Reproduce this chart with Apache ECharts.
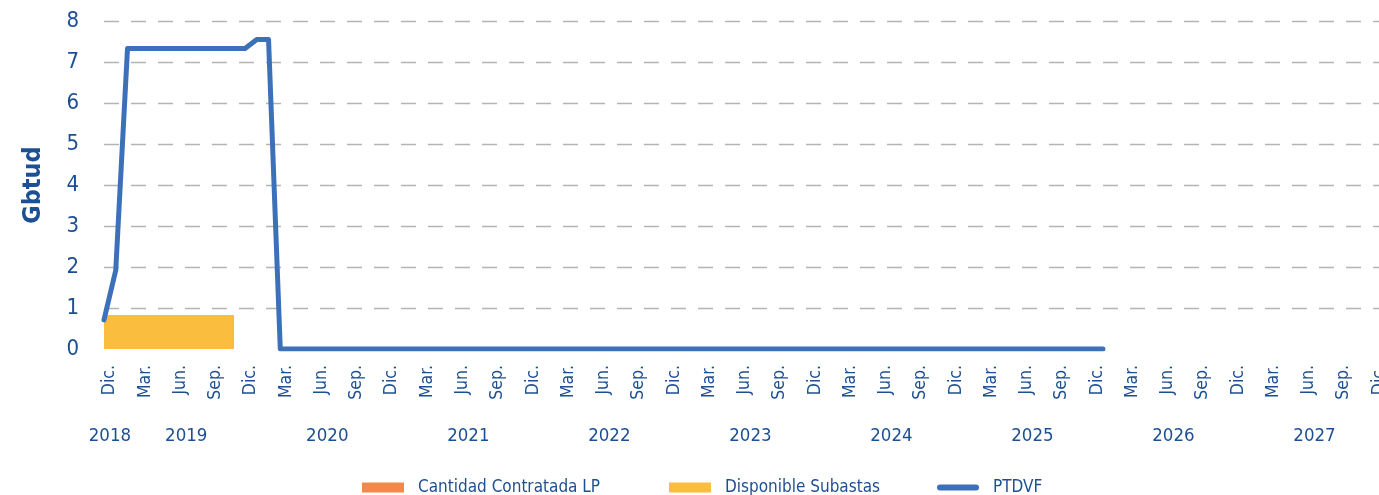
<!DOCTYPE html>
<html>
<head>
<meta charset="utf-8">
<script src="https://cdn.jsdelivr.net/npm/echarts@6/dist/echarts.min.js"></script>
<style>
html,body{margin:0;padding:0;background:#fff;}
#chart{width:1379px;height:495px;}
</style>
</head>
<body>
<div id="chart"></div>
<script>
// ---- data ----
const monthNames = ['Ene.','Feb.','Mar.','Abr.','May.','Jun.','Jul.','Ago.','Sep.','Oct.','Nov.','Dic.'];
const years = ['2018','2019','2020','2021','2022','2023','2024','2025','2026','2027'];
// monthly categories from Dic. 2018 to Dic. 2027
const months = [];
const monthYear = [];
months.push('Dic.'); monthYear.push('2018');
for (let y = 1; y < years.length; y++) {
  for (let m = 0; m < 12; m++) { months.push(monthNames[m]); monthYear.push(years[y]); }
}
// Disponible Subastas (Gbtud), monthly from Dic. 2018
const disponibleSubastas = [0.83,0.83,0.83,0.83,0.83,0.83,0.83,0.83,0.83,0.83,0.83];
// Cantidad Contratada LP (no visible volume)
const cantidadContratadaLP = [];
// PTDVF (Gbtud), monthly from Dic. 2018 to Ene. 2026
const ptdvf = [
  0.71, 1.92, 7.33, 7.33, 7.33, 7.33, 7.33, 7.33, 7.33, 7.33, 7.33, 7.33, 7.33, 7.55, 7.55,
  0, 0, 0, 0, 0, 0, 0, 0, 0, 0, 0, 0, 0, 0, 0, 0, 0, 0, 0, 0,
  0, 0, 0, 0, 0, 0, 0, 0, 0, 0, 0, 0, 0, 0, 0, 0, 0, 0, 0, 0,
  0, 0, 0, 0, 0, 0, 0, 0, 0, 0, 0, 0, 0, 0, 0, 0, 0, 0, 0, 0,
  0, 0, 0, 0, 0, 0, 0, 0, 0, 0, 0
];
const yTicks = [0,1,2,3,4,5,6,7,8];

// ---- derived helpers ----
const monthStarts = months.concat(['Ene.']); // boundaries for the line axis
const yearCenter = {};
years.forEach(y => {
  const first = monthYear.indexOf(y), last = monthYear.lastIndexOf(y);
  yearCenter[((first + last + 1) / 2).toFixed(1)] = y;
});

const FONT = '"Liberation Sans Narrow", "Arial Narrow", "DejaVu Sans Condensed", "Liberation Sans", sans-serif';
const TXT = '#1d4f93';
const ORANGE = '#f4884a', YELLOW = '#fbbd3d', BLUE = '#3c71b9';

function legendAt(left, name, icon) {
  return {
    top: 474,
    left: left,
    itemWidth: 42,
    itemHeight: 10,
    textStyle: { fontFamily: FONT, fontSize: 17, color: TXT, padding: [0, 0, 0, 9] },
    data: [{ name: name, icon: icon }]
  };
}

const chart = echarts.init(document.getElementById('chart'));
chart.setOption({
  animation: false,
  backgroundColor: '#ffffff',
  textStyle: { fontFamily: FONT, color: TXT },
  grid: { left: 104, width: 1281, top: 21, height: 328, containLabel: false, outerBoundsMode: 'none' },
  legend: [
    legendAt(357, 'Cantidad Contratada LP', 'rect'),
    legendAt(664, 'Disponible Subastas', 'rect'),
    legendAt(932, 'PTDVF', 'path://M3,0 L39,0 A3,3 0 0 1 39,6 L3,6 A3,3 0 0 1 3,0 Z')
  ],
  xAxis: [
    {
      type: 'category',
      data: months,
      boundaryGap: true,
      axisLine: { show: false },
      axisTick: { show: false },
      splitLine: { show: false },
      axisLabel: {
        rotate: 90,
        margin: 16,
        fontFamily: FONT,
        fontSize: 17.5,
        color: TXT,
        interval: (idx) => idx % 3 === 0
      }
    },
    {
      type: 'category',
      data: monthStarts,
      boundaryGap: false,
      show: false
    },
    {
      type: 'value',
      min: 0,
      max: months.length,
      interval: 0.5,
      position: 'bottom',
      axisLine: { show: false },
      axisTick: { show: false },
      splitLine: { show: false },
      axisLabel: {
        margin: 78,
        fontFamily: FONT,
        fontSize: 18.5,
        color: TXT,
        showMinLabel: true,
        showMaxLabel: true,
        formatter: (v) => yearCenter[Number(v).toFixed(1)] || ''
      }
    }
  ],
  yAxis: {
    type: 'value',
    min: yTicks[0],
    max: yTicks[yTicks.length - 1],
    interval: 1,
    name: 'Gbtud',
    nameLocation: 'middle',
    nameRotate: 90,
    nameGap: 58,
    nameTextStyle: { fontFamily: FONT, fontSize: 25, fontWeight: 'bold', color: TXT },
    axisLine: { show: false },
    axisTick: { show: false },
    axisLabel: { margin: 25, fontFamily: FONT, fontSize: 22, color: TXT },
    splitLine: {
      show: true,
      showMinLine: false,
      lineStyle: { color: '#b4b4b4', width: 1.3, type: [15, 12] }
    }
  },
  series: [
    {
      name: 'Cantidad Contratada LP',
      type: 'bar',
      stack: 'vol',
      xAxisIndex: 0,
      barWidth: '112%',
      itemStyle: { color: ORANGE, borderWidth: 0 },
      data: cantidadContratadaLP
    },
    {
      name: 'Disponible Subastas',
      type: 'bar',
      stack: 'vol',
      xAxisIndex: 0,
      barWidth: '112%',
      itemStyle: { color: YELLOW, borderWidth: 0 },
      data: disponibleSubastas
    },
    {
      name: 'PTDVF',
      type: 'line',
      xAxisIndex: 1,
      symbol: 'none',
      itemStyle: { color: BLUE },
      lineStyle: { color: BLUE, width: 5, cap: 'round', join: 'round' },
      data: ptdvf,
      z: 5
    }
  ]
});
</script>
</body>
</html>
